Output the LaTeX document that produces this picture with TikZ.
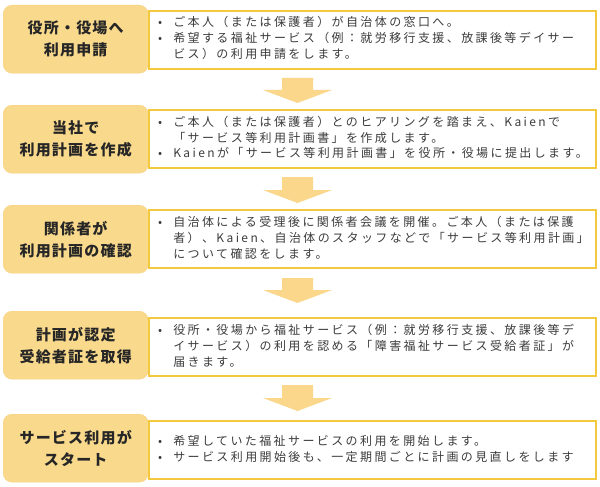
\documentclass[tikz,border=0pt]{standalone}
\usepackage{fontspec}
\newfontfamily\jpbody[LetterSpace=20]{Noto Sans CJK JP}
\newfontfamily\jptitle[LetterSpace=8]{Noto Sans CJK JP}
\definecolor{lboxc}{HTML}{F9D98C}
\definecolor{rlinec}{HTML}{F3C940}
\definecolor{arrowc}{HTML}{FAD78A}
\definecolor{txtc}{HTML}{3C3C3C}
\definecolor{ttlc}{HTML}{262626}
\tikzset{
  lbox/.style={fill=lboxc, draw=lboxc!90!orange, line width=0.4pt, rounded corners=9pt,
    minimum width=145pt, minimum height=68pt, anchor=north west, align=center,
    text=ttlc, font=\jptitle\bfseries\fontsize{15}{22}\selectfont, inner sep=0pt},
  rbox/.style={draw=rlinec, line width=1.6pt, fill=white, minimum width=447pt,
    minimum height=58pt, anchor=north west, inner sep=0pt},
  rtext/.style={anchor=west, inner sep=0pt, text=txtc, font=\jpbody\fontsize{12}{16}\selectfont},
  bigarrow/.style={fill=arrowc}
}
\begin{document}
\begin{tikzpicture}[x=1pt,y=-1pt]
\useasboundingbox (0,0) rectangle (600,487);
\fill[white] (0,0) rectangle (600,487);
% row 1
\node[lbox] (l1) at (3,5) {役所・役場へ\\利用申請};
\node[rbox] (r1) at (148,10) {};
\node[rtext] (t1) at ([xshift=10pt]r1.west) {\begin{tabular}{@{}l@{\hspace{11pt}}l@{}}
•&ご本人（または保護者）が自治体の窓口へ。\\
•&希望する福祉サービス（例：就労移行支援、放課後等デイサー\\
&ビス）の利用申請をします。
\end{tabular}};
% row 2
\node[lbox] (l2) at (3,105) {当社で\\利用計画を作成};
\node[rbox] (r2) at (148,109) {};
\node[rtext] (t2) at ([xshift=10pt]r2.west) {\begin{tabular}{@{}l@{\hspace{11pt}}l@{}}
•&ご本人（または保護者）とのヒアリングを踏まえ、Kaienで\\
&「サービス等利用計画書」を作成します。\\
•&Kaienが「サービス等利用計画書」を役所・役場に提出します。
\end{tabular}};
% row 3
\node[lbox] (l3) at (3,205) {関係者が\\利用計画の確認};
\node[rbox] (r3) at (148,209) {};
\node[rtext] (t3) at ([xshift=10pt]r3.west) {\begin{tabular}{@{}l@{\hspace{11pt}}l@{}}
•&自治体による受理後に関係者会議を開催。ご本人（または保護\\
&者）、Kaien、自治体のスタッフなどで「サービス等利用計画」\\
&について確認をします。
\end{tabular}};
% row 4
\node[lbox] (l4) at (3,311) {計画が認定\\受給者証を取得};
\node[rbox] (r4) at (148,317) {};
\node[rtext] (t4) at ([xshift=10pt]r4.west) {\begin{tabular}{@{}l@{\hspace{11pt}}l@{}}
•&役所・役場から福祉サービス（例：就労移行支援、放課後等デ\\
&イサービス）の利用を認める「障害福祉サービス受給者証」が\\
&届きます。
\end{tabular}};
% row 5
\node[lbox] (l5) at (3,414) {サービス利用が\\スタート};
\node[rbox] (r5) at (148,420) {};
\node[rtext] (t5) at ([xshift=10pt]r5.west) {\begin{tabular}{@{}l@{\hspace{11pt}}l@{}}
•&希望していた福祉サービスの利用を開始します。\\
•&サービス利用開始後も、一定期間ごとに計画の見直しをします
\end{tabular}};
% arrows
\foreach \t/\b in {78/103,177/203,278/303,385/411}{
  \fill[bigarrow] (282,\t) -- (313,\t) -- (313,\b-13) -- (332,\b-13) -- (297.5,\b)
    -- (263,\b-13) -- (282,\b-13) -- cycle;
}
\end{tikzpicture}
\end{document}
